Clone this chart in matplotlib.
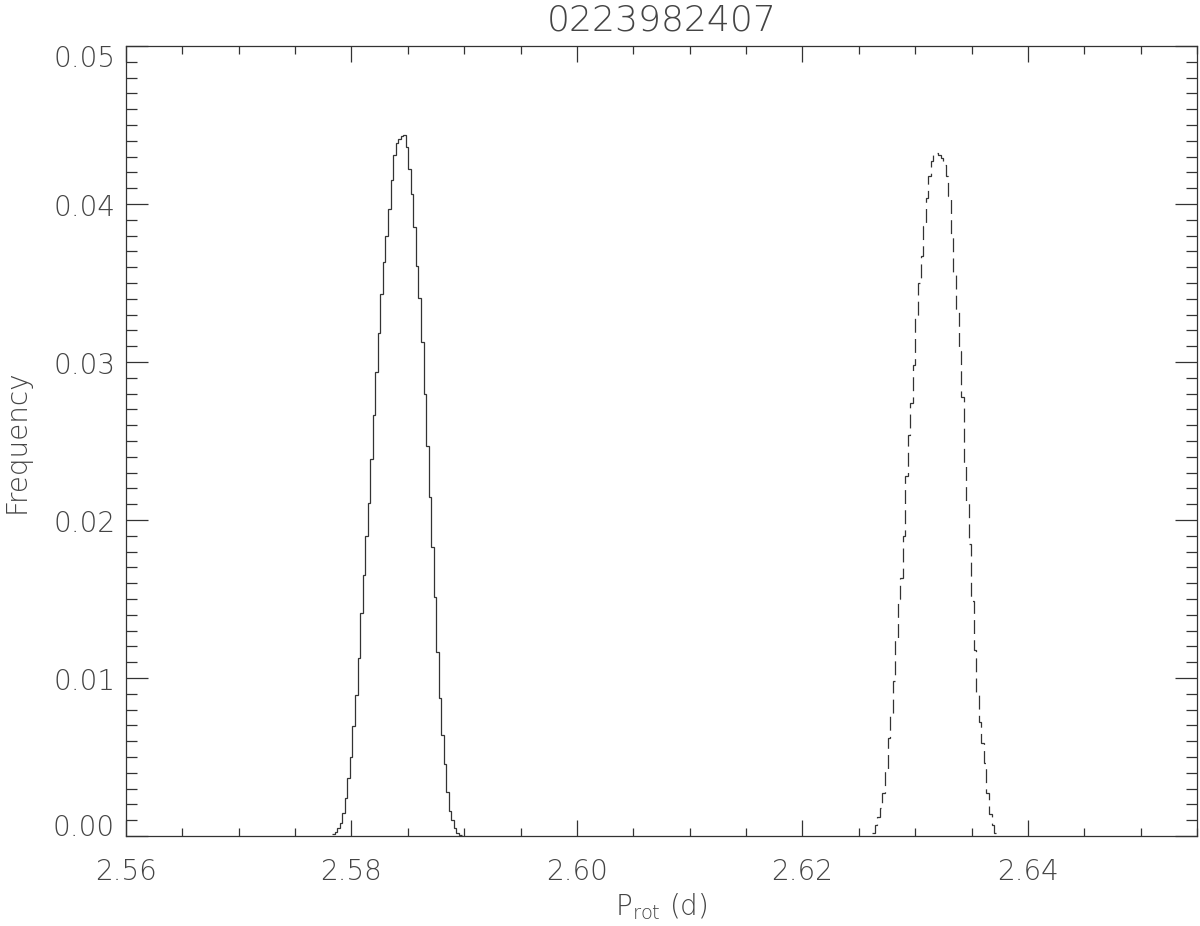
import numpy as np
import matplotlib
matplotlib.use("Agg")
import matplotlib.pyplot as plt
from matplotlib.ticker import MultipleLocator
from matplotlib.transforms import blended_transform_factory, offset_copy

title = "0223982407"
xlabel = "$P_{rot}$ (d)"
ylabel = "Frequency"

bin_width = 0.000225
solid_start = 2.57829
dashed_start = 2.62620

solid_freq = [
    0.00011, 0.00023, 0.00049, 0.00084, 0.00143, 0.00238, 0.00365, 0.00502, 0.00696, 0.00892, 0.01125,
    0.01409, 0.01652, 0.01901, 0.02110, 0.02384, 0.02662, 0.02935, 0.03181, 0.03430, 0.03631,
    0.03797, 0.03968, 0.04150, 0.04308, 0.04388, 0.04411, 0.04430, 0.04434, 0.04359, 0.04219,
    0.04061, 0.03857, 0.03610, 0.03407, 0.03127, 0.02795, 0.02470, 0.02143, 0.01831, 0.01511,
    0.01167, 0.00875, 0.00639, 0.00456, 0.00276, 0.00160, 0.00101, 0.00053, 0.00017, 0.00004,
]

dashed_freq = [
    0.0002, 0.0007, 0.0012, 0.0018, 0.0027, 0.0042, 0.0062, 0.0076, 0.0098, 0.0124,
    0.0150, 0.0163, 0.0190, 0.0228, 0.0254, 0.0274, 0.0298, 0.0329, 0.0350, 0.0367,
    0.0386, 0.0404, 0.0418, 0.0427, 0.0431, 0.0432, 0.0431, 0.0429, 0.0425, 0.0418,
    0.0405, 0.0381, 0.0355, 0.0333, 0.0307, 0.0278, 0.0236, 0.0211, 0.0185, 0.0149,
    0.0118, 0.0090, 0.0072, 0.0059, 0.0046, 0.0027, 0.0014, 0.0007, 0.0002,
]

xticks = [2.56, 2.58, 2.60, 2.62, 2.64]
yticks = [0.00, 0.01, 0.02, 0.03, 0.04, 0.05]
xlim = (2.56, 2.655)
ylim = (0.0, 0.05)

plt.rcParams['font.family'] = ['DejaVu Sans']
plt.rcParams['mathtext.default'] = 'regular'
plt.rcParams['lines.scale_dashes'] = False

txtc = '#444444'
linec = '#333333'
fs = 20

fig = plt.figure(figsize=(12, 9.26), dpi=100)
ax = fig.add_axes([0.105, 0.0972, 0.8925, 0.8531])

solid_edges = solid_start + bin_width * np.arange(len(solid_freq) + 1)
dashed_edges = dashed_start + bin_width * np.arange(len(dashed_freq) + 1)

ax.stairs(solid_freq, solid_edges, color=linec, lw=0.9, baseline=None)
st = ax.stairs(dashed_freq, dashed_edges, color=linec, lw=0.9, baseline=None)
st.set_linestyle((0, (10, 4.5)))

ax.set_xlim(*xlim)
ax.set_ylim(*ylim)

ax.set_xticks(xticks)
ax.set_yticks(yticks)
ax.xaxis.set_minor_locator(MultipleLocator(0.005))
ax.yaxis.set_minor_locator(MultipleLocator(0.001))

ax.tick_params(axis='both', which='both', direction='in', top=True, right=True,
               color=linec, width=0.9, labelbottom=False, labelleft=False)
ax.tick_params(axis='x', which='major', length=11.5)
ax.tick_params(axis='x', which='minor', length=5.8)
ax.tick_params(axis='y', which='major', length=15.8)
ax.tick_params(axis='y', which='minor', length=8)

for sp in ax.spines.values():
    sp.set_color(linec)
    sp.set_linewidth(0.9)

tkw = dict(fontsize=fs, color=txtc, fontweight='light')

# x tick labels (baseline 44 px below the axis)
xtr = offset_copy(blended_transform_factory(ax.transData, ax.transAxes), fig=fig, x=0, y=-44, units='dots')
for v in xticks:
    ax.text(v, 0, f'{v:.2f}', transform=xtr, ha='center', va='baseline', **tkw)

# y tick labels (end labels kept inside the axis range, as in IDL)
ybase = blended_transform_factory(ax.transAxes, ax.transData)
for i, v in enumerate(yticks):
    if i == 0:
        dy = 0
    elif i == len(yticks) - 1:
        dy = -20.5
    else:
        dy = -12
    tr = offset_copy(ybase, fig=fig, x=-11, y=dy, units='dots')
    ax.text(0, v, f'{v:.2f}', transform=tr, ha='right', va='baseline', **tkw)

# title
ttr = offset_copy(ax.transAxes, fig=fig, x=0, y=16, units='dots')
ax.text(0.5, 1.0, title, transform=ttr, ha='center', va='baseline',
        fontsize=26, color=txtc, fontweight='light')

# x label
xltr = offset_copy(ax.transAxes, fig=fig, x=0, y=-79, units='dots')
ax.text(0.5, 0.0, xlabel, transform=xltr, ha='center', va='baseline', **tkw)

# y label
yltr = offset_copy(ax.transAxes, fig=fig, x=-109, y=0, units='dots')
ax.text(0.0, 0.5, ylabel, transform=yltr, ha='center', va='center', rotation=90, **tkw)

fig.savefig("out.png", dpi=100)
